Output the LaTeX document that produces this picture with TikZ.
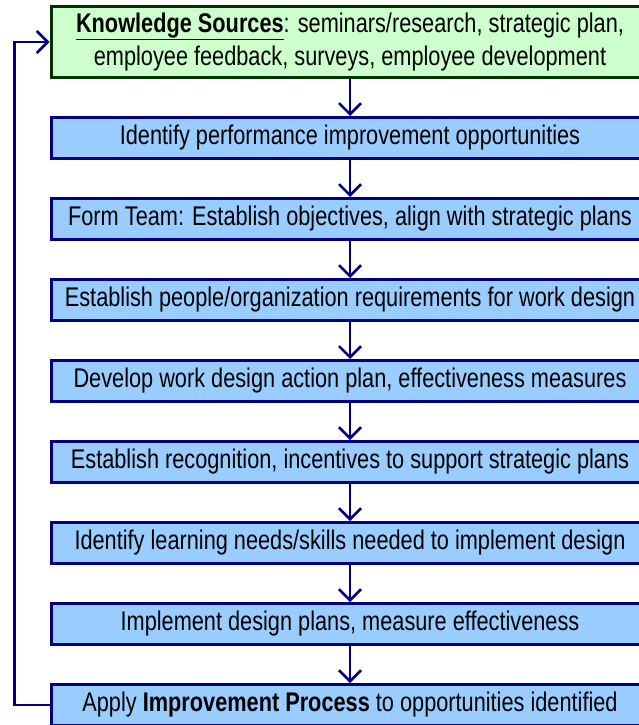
\documentclass[tikz,border=0pt]{standalone}
\usepackage{fontspec}
\setmainfont{Liberation Sans}[FakeStretch=0.805]
\usetikzlibrary{positioning,arrows.meta}
\definecolor{navyline}{HTML}{000080}
\definecolor{boxblue}{HTML}{99CCFF}
\definecolor{srcgreen}{HTML}{CCFFCC}
\definecolor{srcedge}{HTML}{003300}
\tikzset{
  stepbox/.style={draw=navyline,fill=boxblue,line width=3pt,minimum width=598pt,
    minimum height=41pt,inner sep=0pt},
  srcbox/.style={draw=srcedge,fill=srcgreen,line width=3pt,minimum width=598pt,
    minimum height=71pt,inner sep=0pt,align=center},
  flow/.style={draw=navyline,line width=2.5pt,->}
}
\begin{document}
\begin{tikzpicture}[x=1pt,y=1pt,node distance=37pt,
    >={Straight Barb[length=11pt,width=22pt]},font=\fontsize{27}{33}\selectfont]
  \useasboundingbox (0,0) rectangle (639,-725);
  \node[srcbox] (ks) at (350,-42) {\underline{\textbf{Knowledge Sources}}: seminars/research, strategic plan,\\
    employee feedback, surveys, employee development};
  \node[stepbox,below=of ks] (b1) {Identify performance improvement opportunities};
  \node[stepbox,below=of b1] (b2) {Form Team: Establish objectives, align with strategic plans};
  \node[stepbox,below=of b2] (b3) {Establish people/organization requirements for work design};
  \node[stepbox,below=of b3] (b4) {Develop work design action plan, effectiveness measures};
  \node[stepbox,below=of b4] (b5) {Establish recognition, incentives to support strategic plans};
  \node[stepbox,below=of b5] (b6) {Identify learning needs/skills needed to implement design};
  \node[stepbox,below=of b6] (b7) {Implement design plans, measure effectiveness};
  \node[stepbox,below=of b7] (b8) {Apply \textbf{Improvement Process} to opportunities identified};
  % arrows down the chain
  \draw[flow] (ks) -- (b1);
  \foreach \a/\b in {b1/b2,b2/b3,b3/b4,b4/b5,b5/b6,b6/b7,b7/b8}
    \draw[flow] (\a) -- (\b);
  % feedback loop
  \draw[flow] (b8.west) -- ++(-35pt,0) |- (ks.west);
\end{tikzpicture}
\end{document}
